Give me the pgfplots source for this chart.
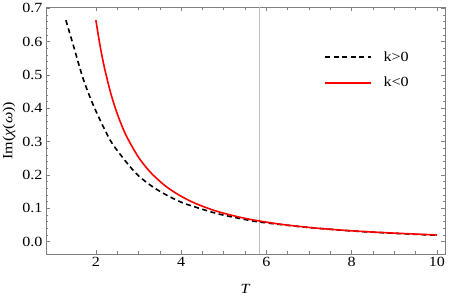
\documentclass[border=0pt]{standalone}
\usepackage{pgfplots}
\pgfplotsset{compat=1.18}
\usepackage{fontspec}
\setmainfont{Liberation Serif}[FakeStretch=1.15]
\begin{document}
\begin{tikzpicture}[font=\fontsize{14}{16}\selectfont]
\begin{axis}[
  scale only axis, width=399pt, height=246.5pt,
  xmin=0.83, xmax=10.19, ymin=-0.037, ymax=0.702,
  axis line style={black!50, line width=0.8pt},
  tick style={black!50, line width=0.6pt},
  major tick length=4pt, minor tick length=2.5pt,
  tick align=inside, tick pos=both, xticklabel pos=lower, yticklabel pos=left,
  xtick={2,4,6,8,10}, ytick={0,0.1,0.2,0.3,0.4,0.5,0.6,0.7},
  minor x tick num=3, minor y tick num=4,
  /pgf/number format/assume math mode=true,
  yticklabel style={/pgf/number format/.cd, fixed, fixed zerofill, precision=1},
  xlabel={\textit{T}}, ylabel={Im(\textit{χ}(\textit{ω}))},
  xlabel style={at={(axis description cs:0.5,0)}, anchor=center, yshift=-35pt},
  ylabel style={at={(axis description cs:0,0.5)}, anchor=center, yshift=37pt},
  legend style={at={(rel axis cs:0.697,0.747)}, anchor=west, draw=none, fill=none,
    inner sep=0pt, nodes={inner sep=0pt, anchor=west}, row sep=14.7pt, column sep=11.7pt},
  legend cell align=left,
  legend image code/.code={\draw[#1] (0pt,0pt) -- (46pt,0pt);},
]
\coordinate (sw) at (rel axis cs:0,0);
\coordinate (ne) at (rel axis cs:1,1);
\addplot[black!25, line width=0.8pt, forget plot] coordinates {(5.83,-0.037) (5.83,0.702)};
\addplot[black, line width=1.6pt, dash pattern=on 5pt off 3.5pt, smooth] coordinates {
(1.296,0.664) (1.47,0.589) (1.70,0.489) (1.94,0.409) (2.25,0.325) (2.45,0.282)
(2.94,0.205) (3.41,0.158) (3.97,0.120) (4.50,0.097) (4.91,0.082) (5.40,0.069)
(5.83,0.059) (6.79,0.045) (7.9,0.033) (9.0,0.025) (10,0.019)};
\addlegendentry{k>0}
\addplot[red, line width=1.6pt, smooth] coordinates {
(2.0,0.664) (2.1,0.586) (2.2,0.522) (2.35,0.4445) (2.5,0.384) (2.7,0.321)
(3.0,0.253) (3.3,0.2053) (3.7,0.1603) (4.2,0.1225) (4.8,0.0926) (5.5,0.0698)
(6.3,0.0528) (7.2,0.0402) (8.2,0.0309) (9.1,0.0250) (10,0.0200)};
\addlegendentry{k<0}
\end{axis}
\pgfresetboundingbox
\path ([shift={(-46pt,-45pt)}]sw) rectangle ([shift={(5pt,7.5pt)}]ne);
\end{tikzpicture}
\end{document}
